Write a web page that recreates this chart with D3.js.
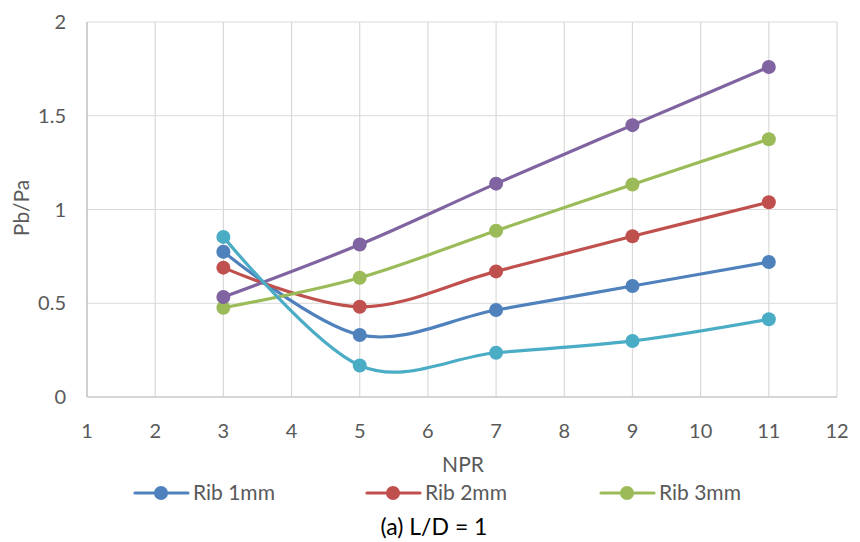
<!DOCTYPE html>
<html><head><meta charset="utf-8">
<script src="https://cdn.jsdelivr.net/npm/d3@7"></script>
<style>body{margin:0;background:#fff}svg{display:block}</style>
</head><body>
<svg id="c" width="860" height="542"></svg>
<script>
const npr = [3, 5, 7, 9, 11];
const rib1 = [0.775, 0.331, 0.464, 0.592, 0.720];
const rib2 = [0.690, 0.481, 0.670, 0.857, 1.039];
const rib3 = [0.476, 0.636, 0.887, 1.133, 1.375];
const series4 = [0.533, 0.813, 1.138, 1.450, 1.760];
const series5 = [0.854, 0.168, 0.236, 0.299, 0.415];
const xTicks = [1,2,3,4,5,6,7,8,9,10,11,12];
const yTicks = [0, 0.5, 1, 1.5, 2];
const legendNames = ["Rib 1mm", "Rib 2mm", "Rib 3mm"];

const seriesList = [
  {name:"Rib 1mm", values:rib1, color:"#4F81BD"},
  {name:"Rib 2mm", values:rib2, color:"#C0504D"},
  {name:"Rib 3mm", values:rib3, color:"#9BBB59"},
  {name:"s4", values:series4, color:"#8064A2"},
  {name:"s5", values:series5, color:"#4BACC6"}
];

const svg = d3.select("#c");
const font = "Lato, 'Open Sans', sans-serif";
const txt = "#595959";
const x = d3.scaleLinear().domain([1,12]).range([87,837]);
const y = d3.scaleLinear().domain([0,2]).range([397,22]);

// grid
svg.append("g").selectAll("line").data(yTicks).join("line")
  .attr("x1", x(1)).attr("x2", x(12)).attr("y1", d=>y(d)).attr("y2", d=>y(d))
  .attr("stroke", "#D9D9D9").attr("stroke-width", 1.2);
svg.append("g").selectAll("line").data(xTicks).join("line")
  .attr("x1", d=>x(d)).attr("x2", d=>x(d)).attr("y1", y(0)).attr("y2", y(2))
  .attr("stroke", "#D9D9D9").attr("stroke-width", 1.2);
// axis lines
svg.append("line").attr("x1", x(1)).attr("x2", x(1)).attr("y1", y(0)).attr("y2", y(2)).attr("stroke", "#BFBFBF").attr("stroke-width", 1.2);
svg.append("line").attr("x1", x(1)).attr("x2", x(12)).attr("y1", y(0)).attr("y2", y(0)).attr("stroke", "#BFBFBF").attr("stroke-width", 1.2);

// tick labels
svg.append("g").selectAll("text").data(yTicks).join("text")
  .attr("x", 66).attr("y", d=>y(d)+7).attr("text-anchor","end")
  .attr("font-family", font).attr("font-size", 20).attr("fill", txt).text(d=>d);
svg.append("g").selectAll("text").data(xTicks).join("text")
  .attr("x", d=>x(d)).attr("y", 438).attr("text-anchor","middle")
  .attr("font-family", font).attr("font-size", 20).attr("fill", txt).text(d=>d);

// axis titles
svg.append("text").attr("transform","translate(29,208) rotate(-90)").attr("text-anchor","middle")
  .attr("font-family", font).attr("font-size", 21).attr("fill", txt).text("Pb/Pa");
svg.append("text").attr("x", 463).attr("y", 472).attr("text-anchor","middle")
  .attr("font-family", font).attr("font-size", 21).attr("fill", txt).text("NPR");
svg.append("text").attr("x", 434).attr("y", 535).attr("text-anchor","middle")
  .attr("font-family", font).attr("font-size", 23).attr("fill", "#000").text("(a) L/D = 1");

// lines
const line = d3.line().x(d=>x(d[0])).y(d=>y(d[1])).curve(d3.curveCatmullRom.alpha(0));
seriesList.forEach(s => {
  const pts = npr.map((v,i)=>[v, s.values[i]]);
  svg.append("path").datum(pts).attr("d", line).attr("fill","none")
    .attr("stroke", s.color).attr("stroke-width", 3.2).attr("stroke-linecap","round");
});
seriesList.forEach(s => {
  const pts = npr.map((v,i)=>[v, s.values[i]]);
  svg.append("g").selectAll("circle").data(pts).join("circle")
    .attr("cx", d=>x(d[0])).attr("cy", d=>y(d[1])).attr("r", 7).attr("fill", s.color);
});

// legend
const legX = [135, 367, 601];
legendNames.forEach((n,i) => {
  const s = seriesList[i];
  const g = svg.append("g");
  g.append("line").attr("x1", legX[i]).attr("x2", legX[i]+53).attr("y1", 493).attr("y2", 493)
    .attr("stroke", s.color).attr("stroke-width", 3.2).attr("stroke-linecap","round");
  g.append("circle").attr("cx", legX[i]+26).attr("cy", 493).attr("r", 7).attr("fill", s.color);
  g.append("text").attr("x", legX[i]+58).attr("y", 500).attr("font-family", font)
    .attr("font-size", 21).attr("fill", txt).text(n);
});
</script>
</body></html>
